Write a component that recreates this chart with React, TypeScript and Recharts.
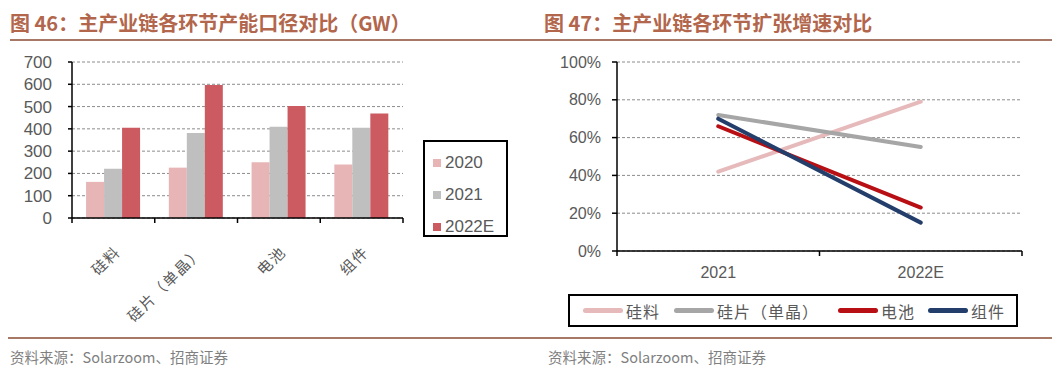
import React from 'react';
import { BarChart, Bar, XAxis, YAxis, CartesianGrid, Legend, LineChart, Line } from 'recharts';

// ---------- Data: Figure 46 (capacity, GW) ----------
const capacityCategories = ['硅料', '硅片（单晶）', '电池', '组件'];
const capacityYears = ['2020', '2021', '2022E'];
const capacity2020 = [162, 226, 250, 240];
const capacity2021 = [221, 381, 410, 405];
const capacity2022E = [405, 597, 503, 469];
const capacityTicks = [0, 100, 200, 300, 400, 500, 600, 700];
const capacityColors = ['#E8B5B7', '#BFBFBF', '#CB5B61'];

// ---------- Data: Figure 47 (growth rate, %) ----------
const growthYears = ['2021', '2022E'];
const growthSeries = ['硅料', '硅片（单晶）', '电池', '组件'];
const growthSilicon = [42, 79];
const growthWafer = [72, 55];
const growthCell = [66, 23];
const growthModule = [70, 15];
const growthTicks = [0, 20, 40, 60, 80, 100];
const growthColors = ['#E6BABB', '#A6A6A6', '#B80F14', '#243E6C'];

const titleLeft = '图 46：主产业链各环节产能口径对比（GW）';
const titleRight = '图 47：主产业链各环节扩张增速对比';
const sourceText = '资料来源：Solarzoom、招商证券';

const capacityData = capacityCategories.map((c, i) => ({
  name: c,
  [capacityYears[0]]: capacity2020[i],
  [capacityYears[1]]: capacity2021[i],
  [capacityYears[2]]: capacity2022E[i],
}));

const growthValues = [growthSilicon, growthWafer, growthCell, growthModule];
const growthData = growthYears.map((y, i) => {
  const row: any = { name: y };
  growthSeries.forEach((s, k) => {
    row[s] = growthValues[k][i];
  });
  return row;
});

const NUM_FONT = '"Liberation Sans", Arial, sans-serif';
const CJK_FONT = '"Noto Sans CJK SC", "Noto Sans", sans-serif';
const TEXT_GRAY = '#595959';

// layout constants
const BAR_W = 420, BAR_H = 330;
const BAR_M = { top: 62, right: 17, bottom: 32, left: 0 };
const BAR_YW = 72, BAR_XH = 80;
const BAR_PLOT_W = BAR_W - BAR_M.left - BAR_M.right - BAR_YW;

const LINE_W = 520, LINE_H = 340;
const LINE_M = { top: 62, right: 28, bottom: 59, left: 0 };
const LINE_YW = 87, LINE_XH = 30;
const LINE_PLOT_W = LINE_W - LINE_M.left - LINE_M.right - LINE_YW;

const BarXTick = (props: any) => {
  const { x, y, payload, index } = props;
  const band = BAR_PLOT_W / capacityCategories.length;
  const lx = x + 8;
  const ly = y + 35;
  return (
    <g>
      <line x1={x - band / 2} x2={x - band / 2} y1={y} y2={y + 5} stroke="#000" strokeWidth={1.5} />
      {index === capacityCategories.length - 1 && (
        <line x1={x + band / 2} x2={x + band / 2} y1={y} y2={y + 5} stroke="#000" strokeWidth={1.5} />
      )}
      <text
        x={lx}
        y={ly}
        textAnchor="end"
        transform={`rotate(-45, ${lx}, ${ly})`}
        fill={TEXT_GRAY}
        fontSize={15}
        fontFamily={CJK_FONT}
        letterSpacing={1.5}
      >
        {payload.value}
      </text>
    </g>
  );
};

const LineXTick = (props: any) => {
  const { x, y, payload, index } = props;
  const band = LINE_PLOT_W / growthYears.length;
  return (
    <g>
      <line x1={x - band / 2} x2={x - band / 2} y1={y} y2={y + 5} stroke="#000" strokeWidth={1.5} />
      {index === growthYears.length - 1 && (
        <line x1={x + band / 2} x2={x + band / 2} y1={y} y2={y + 5} stroke="#000" strokeWidth={1.5} />
      )}
      <text x={x} y={y + 27} textAnchor="middle" fill={TEXT_GRAY} fontSize={16} fontFamily={NUM_FONT}>
        {payload.value}
      </text>
    </g>
  );
};

const BarLegendBox = () => (
  <div
    style={{
      boxSizing: 'border-box',
      width: 85,
      height: 97,
      border: '2px solid #000',
      background: '#fff',
      padding: '5px 0 0 8px',
    }}
  >
    {capacityYears.map((yr, i) => (
      <div key={yr} style={{ display: 'flex', alignItems: 'center', height: 31, marginTop: i === 0 ? 0 : 1 }}>
        <span style={{ width: 8, height: 8, background: capacityColors[i], display: 'inline-block', marginRight: 4 }} />
        <span style={{ fontFamily: NUM_FONT, fontSize: 17, color: TEXT_GRAY }}>{yr}</span>
      </div>
    ))}
  </div>
);

const LineLegendBox = () => (
  <div
    style={{
      boxSizing: 'border-box',
      width: 450,
      height: 33,
      border: '2px solid #000',
      background: '#fff',
      display: 'flex',
      alignItems: 'center',
      paddingLeft: 13,
      whiteSpace: 'nowrap',
    }}
  >
    {growthSeries.map((s, i) => (
      <div
        key={s}
        style={{
          display: 'flex',
          alignItems: 'center',
          flexShrink: 0,
          whiteSpace: 'nowrap',
          marginRight: i === 0 ? 14 : i === 1 ? 19 : 13,
        }}
      >
        <span
          style={{
            width: 40,
            height: 5,
            borderRadius: 3,
            background: growthColors[i],
            display: 'inline-block',
            flexShrink: 0,
            marginRight: 3,
          }}
        />
        <span style={{ fontFamily: CJK_FONT, fontSize: 16, color: TEXT_GRAY, letterSpacing: 1, whiteSpace: 'nowrap' }}>
          {s}
        </span>
      </div>
    ))}
  </div>
);

export default function App() {
  return (
    <div
      style={{
        position: 'absolute',
        left: 0,
        top: 0,
        width: 1062,
        height: 376,
        background: '#fff',
        overflow: 'hidden',
      }}
    >
      {/* Titles */}
      <div
        style={{
          position: 'absolute',
          left: 10,
          top: 10,
          fontFamily: CJK_FONT,
          fontWeight: 700,
          fontSize: 20,
          lineHeight: '26px',
          color: '#B2664C',
          whiteSpace: 'nowrap',
        }}
      >
        {titleLeft}
      </div>
      <div
        style={{
          position: 'absolute',
          left: 544,
          top: 10,
          fontFamily: CJK_FONT,
          fontWeight: 700,
          fontSize: 20,
          lineHeight: '26px',
          color: '#B2664C',
          whiteSpace: 'nowrap',
        }}
      >
        {titleRight}
      </div>
      <div style={{ position: 'absolute', left: 10, top: 39, width: 1042, height: 2, background: '#A77866' }} />

      {/* Left chart */}
      <div style={{ position: 'absolute', left: 0, top: 0 }}>
        <BarChart
          width={BAR_W}
          height={BAR_H}
          data={capacityData}
          margin={BAR_M}
          barCategoryGap="17%"
          barGap={0}
        >
          <CartesianGrid vertical={false} strokeDasharray="3 2" stroke="#8C8C8C" />
          <XAxis
            dataKey="name"
            height={BAR_XH}
            interval={0}
            tickSize={0}
            tickMargin={0}
            tickLine={false}
            axisLine={{ stroke: '#000', strokeWidth: 1.5 }}
            tick={<BarXTick />}
          />
          <YAxis
            width={BAR_YW}
            domain={[0, 700]}
            ticks={capacityTicks}
            interval={0}
            tickSize={4}
            tickMargin={16}
            axisLine={{ stroke: '#000', strokeWidth: 1.5 }}
            tickLine={{ stroke: '#000', strokeWidth: 1.5 }}
            tick={{ fill: TEXT_GRAY, fontSize: 17, fontFamily: NUM_FONT }}
          />
          {capacityYears.map((yr, i) => (
            <Bar key={yr} dataKey={yr} fill={capacityColors[i]} isAnimationActive={false} />
          ))}
          <Legend
            layout="horizontal"
            verticalAlign="middle"
            align="center"
            wrapperStyle={{ left: 423, top: 140, width: 85, height: 97 }}
            content={() => <BarLegendBox />}
          />
        </BarChart>
      </div>

      {/* Right chart */}
      <div style={{ position: 'absolute', left: 530, top: 0 }}>
        <LineChart width={LINE_W} height={LINE_H} data={growthData} margin={LINE_M}>
          <CartesianGrid vertical={false} strokeDasharray="3 2" stroke="#8C8C8C" />
          <XAxis
            dataKey="name"
            scale="band"
            height={LINE_XH}
            interval={0}
            tickSize={0}
            tickMargin={0}
            tickLine={false}
            axisLine={{ stroke: '#000', strokeWidth: 1.5 }}
            tick={<LineXTick />}
          />
          <YAxis
            width={LINE_YW}
            domain={[0, 100]}
            ticks={growthTicks}
            interval={0}
            tickSize={5}
            tickMargin={11}
            tickFormatter={(v: number) => `${v}%`}
            axisLine={{ stroke: '#000', strokeWidth: 1.5 }}
            tickLine={{ stroke: '#000', strokeWidth: 1.5 }}
            tick={{ fill: TEXT_GRAY, fontSize: 16, fontFamily: NUM_FONT }}
          />
          {growthSeries.map((s, i) => (
            <Line
              key={s}
              type="linear"
              dataKey={s}
              stroke={growthColors[i]}
              strokeWidth={4}
              strokeLinecap="round"
              dot={false}
              activeDot={false}
              isAnimationActive={false}
            />
          ))}
          <Legend
            layout="horizontal"
            verticalAlign="middle"
            align="center"
            wrapperStyle={{ left: 38, top: 294, width: 450, height: 33 }}
            content={() => <LineLegendBox />}
          />
        </LineChart>
      </div>

      {/* Footer */}
      <div style={{ position: 'absolute', left: 8, top: 337, width: 1044, height: 2, background: '#A77866' }} />
      <div
        style={{
          position: 'absolute',
          left: 10,
          top: 347,
          fontFamily: CJK_FONT,
          fontSize: 14.5,
          lineHeight: '20px',
          color: '#7F7F7F',
          whiteSpace: 'nowrap',
        }}
      >
        {sourceText}
      </div>
      <div
        style={{
          position: 'absolute',
          left: 548,
          top: 347,
          fontFamily: CJK_FONT,
          fontSize: 14.5,
          lineHeight: '20px',
          color: '#7F7F7F',
          whiteSpace: 'nowrap',
        }}
      >
        {sourceText}
      </div>
    </div>
  );
}
